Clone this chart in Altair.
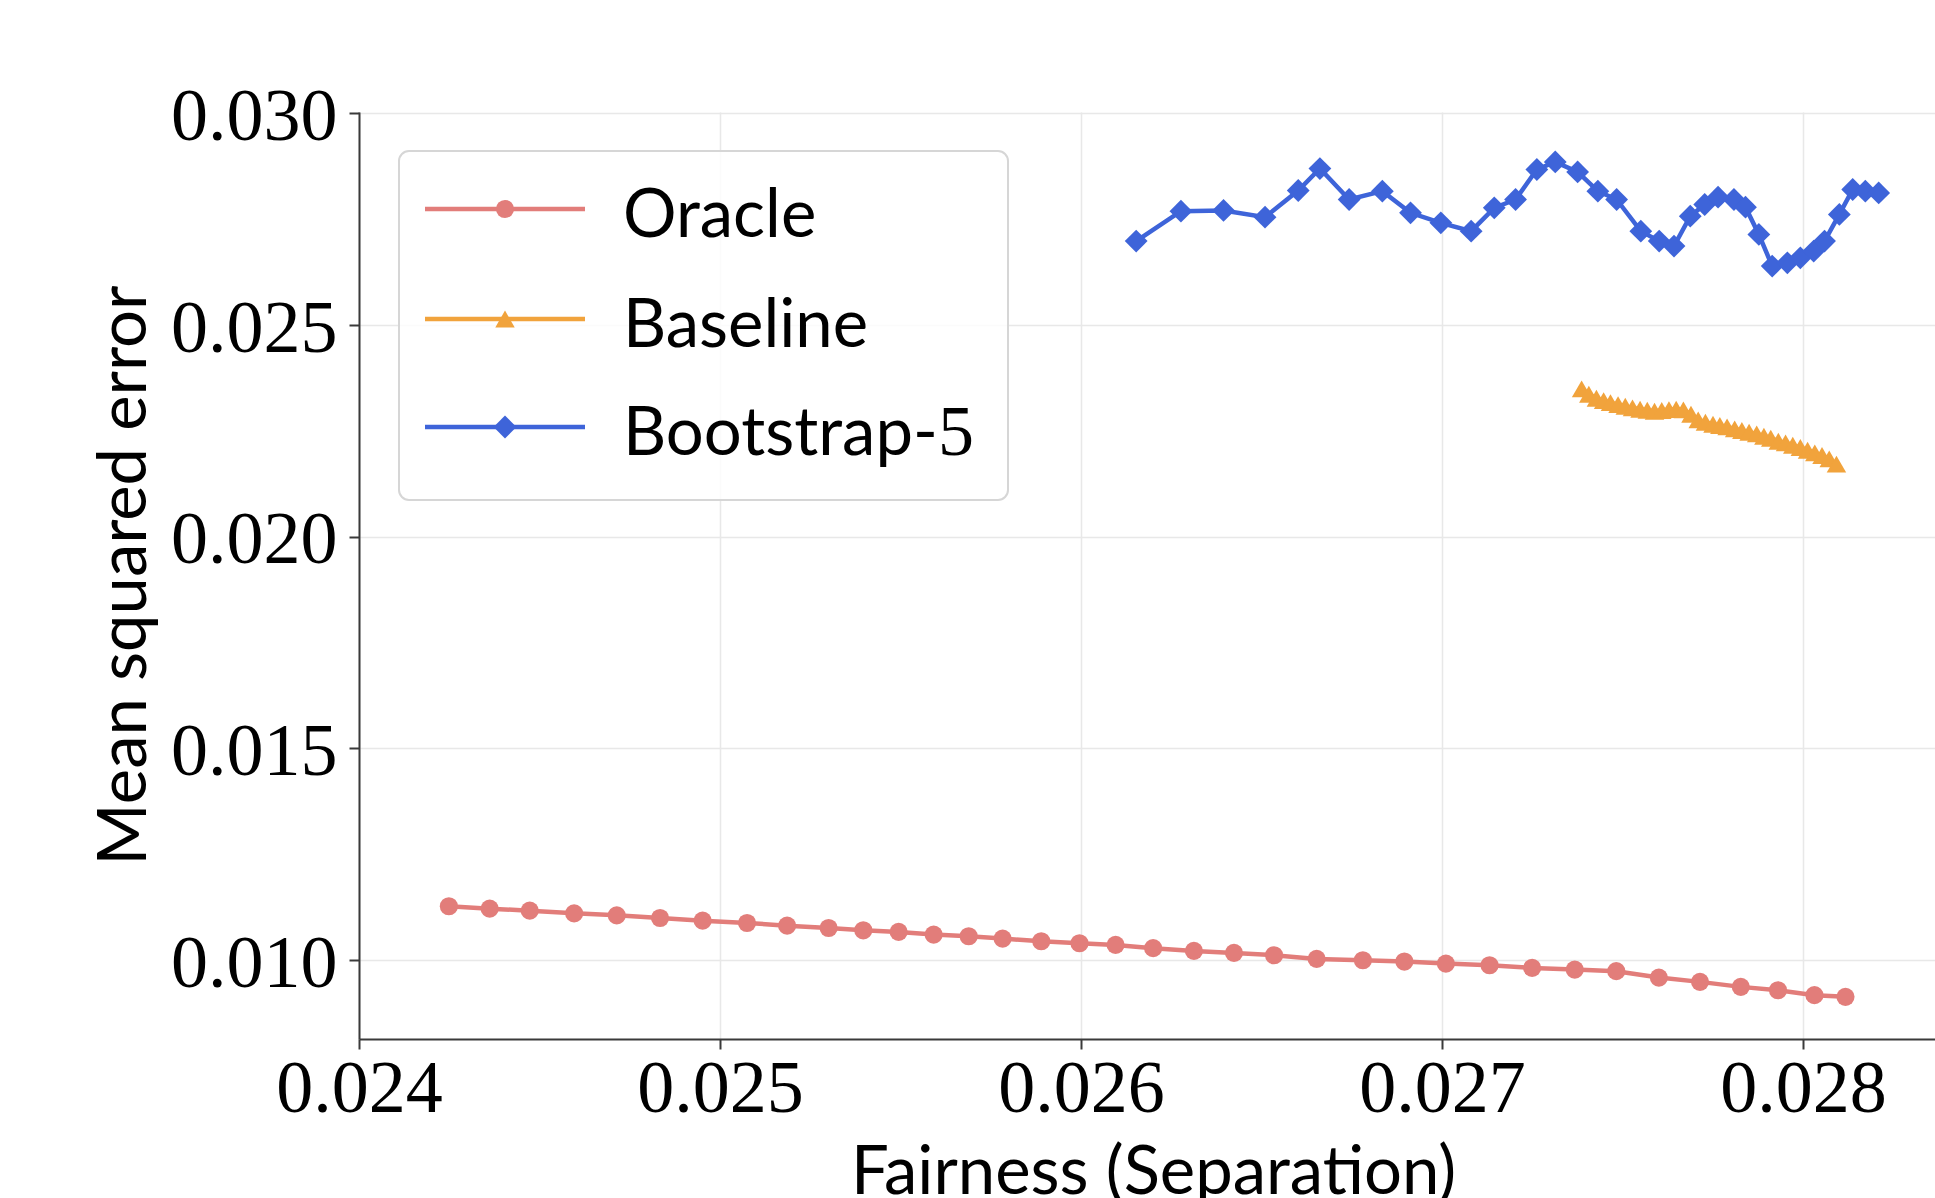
import altair as alt
import pandas as pd

# Fairness (separation) against mean squared error for three estimators
oracle_x = [0.024249, 0.024362, 0.024473, 0.024596, 0.024714, 0.024834, 0.024952, 0.025075,
            0.025186, 0.025301, 0.025397, 0.025495, 0.025592, 0.025689, 0.025783, 0.025890,
            0.025996, 0.026096, 0.026200, 0.026313, 0.026424, 0.026535, 0.026653, 0.026781,
            0.026896, 0.027011, 0.027132, 0.027250, 0.027368, 0.027483, 0.027601, 0.027715,
            0.027828, 0.027931, 0.028032, 0.028118]
oracle_y = [0.011274, 0.011218, 0.011171, 0.011108, 0.011061, 0.010998, 0.010935, 0.010880,
            0.010817, 0.010762, 0.010707, 0.010668, 0.010605, 0.010566, 0.010511, 0.010448,
            0.010401, 0.010362, 0.010285, 0.010220, 0.010173, 0.010118, 0.010031, 0.010000,
            0.009969, 0.009921, 0.009882, 0.009819, 0.009780, 0.009741, 0.009591, 0.009489,
            0.009371, 0.009292, 0.009175, 0.009135]

baseline_x = [0.027387, 0.027407, 0.027428, 0.027448, 0.027467, 0.027488, 0.027508, 0.027528,
              0.027549, 0.027569, 0.027589, 0.027609, 0.027629, 0.027649, 0.027669, 0.027690,
              0.027710, 0.027730, 0.027751, 0.027770, 0.027790, 0.027811, 0.027831, 0.027851,
              0.027872, 0.027892, 0.027911, 0.027932, 0.027952, 0.027972, 0.027993, 0.028013,
              0.028033, 0.028053, 0.028073, 0.028093]
baseline_y = [0.023491, 0.023365, 0.023270, 0.023215, 0.023168, 0.023121, 0.023082, 0.023042,
              0.023011, 0.022987, 0.022964, 0.022980, 0.023003, 0.023011, 0.022995, 0.022893,
              0.022759, 0.022704, 0.022657, 0.022626, 0.022594, 0.022547, 0.022508, 0.022469,
              0.022429, 0.022374, 0.022327, 0.022256, 0.022217, 0.022162, 0.022107, 0.022044,
              0.021981, 0.021918, 0.021840, 0.021714]

bootstrap_x = [0.026153, 0.026277, 0.026395, 0.026510, 0.026602, 0.026662, 0.026743, 0.026835,
               0.026913, 0.026997, 0.027081, 0.027145, 0.027204, 0.027263, 0.027314, 0.027376,
               0.027432, 0.027484, 0.027551, 0.027602, 0.027643, 0.027688, 0.027728, 0.027765,
               0.027809, 0.027841, 0.027878, 0.027915, 0.027957, 0.027993, 0.028030, 0.028060,
               0.028101, 0.028138, 0.028173, 0.028210]
bootstrap_y = [0.026981, 0.027689, 0.027705, 0.027547, 0.028176, 0.028695, 0.027964, 0.028160,
               0.027649, 0.027413, 0.027217, 0.027767, 0.027964, 0.028672, 0.028852, 0.028616,
               0.028160, 0.027964, 0.027217, 0.026981, 0.026863, 0.027571, 0.027846, 0.028019,
               0.027964, 0.027783, 0.027139, 0.026392, 0.026469, 0.026587, 0.026745, 0.026981,
               0.027611, 0.028200, 0.028160, 0.028120]

series_names = ["Oracle", "Baseline", "Bootstrap-5"]
# legend text: sans part, then a numeral set in the serif face
legend_text = ["Oracle", "Baseline", "Bootstrap-"]
legend_numeral = ["", "", "5"]
series_colors = ["#E27D7A", "#F1A33C", "#3E64D9"]
series_shapes = ["circle", "triangle-up", "diamond"]
series_sizes = [330, 380, 520]

x_ticks = [0.024, 0.025, 0.026, 0.027, 0.028]
y_ticks = [0.010, 0.015, 0.020, 0.025, 0.030]

rows = []
for name, xs, ys in zip(series_names,
                        [oracle_x, baseline_x, bootstrap_x],
                        [oracle_y, baseline_y, bootstrap_y]):
    for i, (xv, yv) in enumerate(zip(xs, ys)):
        rows.append({"method": name, "idx": i, "fairness": xv, "mse": yv})
df = pd.DataFrame(rows)

W, H = 1576, 927
SERIF = "Liberation Serif"
SANS = "Lato"
LINE_W = 4.5

color = alt.Color("method:N", scale=alt.Scale(domain=series_names, range=series_colors), legend=None)

base = alt.Chart(df).encode(
    x=alt.X("fairness:Q",
            scale=alt.Scale(domain=[0.024, 0.028366], nice=False, zero=False),
            axis=alt.Axis(values=x_ticks, format=".3f", title="Fairness (Separation)",
                          titleX=794, titleY=154, titleBaseline="alphabetic",
                          titleAlign="center", labelPadding=4, labelFlush=False)),
    y=alt.Y("mse:Q",
            scale=alt.Scale(domain=[0.00814, 0.03003], nice=False, zero=False),
            axis=alt.Axis(values=y_ticks, format=".3f", title="Mean squared error",
                          titleX=-214, titleY=463, titleAngle=-90,
                          titleBaseline="alphabetic", titleAlign="center",
                          labelPadding=12, labelBaseline="middle", labelOffset=4,
                          labelFlush=False)),
    color=color,
    order="idx:Q",
)

lines = base.mark_line(strokeWidth=LINE_W)

point_layers = []
for name, shp, sz in zip(series_names, series_shapes, series_sizes):
    point_layers.append(
        base.transform_filter(alt.datum.method == name)
        .mark_point(filled=True, opacity=1, shape=shp, size=sz, strokeWidth=0)
    )

# legend box
one = pd.DataFrame({"a": [0]})
frame = alt.Chart(one).mark_rect(
    cornerRadius=10, fill="white", fillOpacity=0.8, stroke="#d6d6d6", strokeWidth=2
).encode(x=alt.value(40), x2=alt.value(649), y=alt.value(39), y2=alt.value(388))

legend_layers = [frame]
legend_df = pd.DataFrame({"method": series_names, "text": legend_text, "numeral": legend_numeral})
row_y = [97, 207, 315]
for name, shp, sz, ry, num in zip(series_names, series_shapes, series_sizes, row_y, legend_numeral):
    entry = alt.Chart(legend_df).transform_filter(alt.datum.method == name)
    legend_layers.append(
        entry.mark_rule(strokeWidth=LINE_W).encode(
            x=alt.value(66), x2=alt.value(226), y=alt.value(ry), color=color)
    )
    legend_layers.append(
        entry.mark_point(filled=True, opacity=1, shape=shp, size=sz, strokeWidth=0).encode(
            x=alt.value(146), y=alt.value(ry), color=color)
    )
    legend_layers.append(
        entry.mark_text(align="left", baseline="alphabetic", font=SANS, fontSize=67,
                        color="black").encode(
            x=alt.value(264), y=alt.value(ry + 28), text="text:N")
    )
    if num:
        legend_layers.append(
            entry.mark_text(align="left", baseline="alphabetic", font=SERIF, fontSize=72,
                            color="black").encode(
                x=alt.value(579), y=alt.value(ry + 28), text="numeral:N")
        )

chart = alt.layer(lines, *point_layers, *legend_layers).properties(
    width=W, height=H,
    autosize=alt.AutoSizeParams(type="none"),
    padding={"left": 359, "top": 112, "right": 0, "bottom": 159},
    background="white",
).configure_view(stroke=None).configure_axis(
    domainColor="#3a3a3a", domainWidth=2,
    tickColor="#3a3a3a", tickWidth=2, tickSize=10,
    gridColor="#e8e8e8", gridWidth=1.5,
    labelFont=SERIF, labelFontSize=74, labelColor="black",
    titleFont=SANS, titleFontSize=67, titleFontWeight="normal", titleColor="black",
)

chart.save("out.html", embed_options={"renderer": "svg", "actions": False})
